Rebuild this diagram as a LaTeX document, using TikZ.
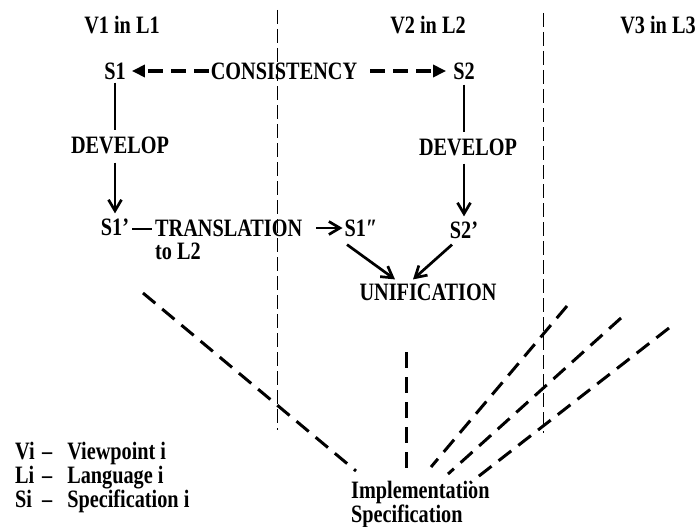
\documentclass[tikz,border=0pt]{standalone}
\usepackage{fontspec}
\setmainfont[FakeStretch=0.81]{Liberation Serif}
\usetikzlibrary{arrows.meta,positioning}

\begin{document}
\begin{tikzpicture}[x=1pt,y=-1pt,
  every node/.style={inner sep=0pt},
  font=\fontsize{25}{20}\selectfont\bfseries,
  conn/.style={line width=2.7pt},
  arr/.style={conn,-{Straight Barb[length=11pt,width=13pt]}},
  consarr/.style={line width=3.2pt,dash pattern=on 15pt off 8pt,-{Triangle[length=13pt,width=12pt]}},
  divider/.style={line width=0.9pt,dash pattern=on 14pt off 5pt},
  spoke/.style={line width=3pt,dash pattern=on 16pt off 9pt}]
\useasboundingbox (0,0) rectangle (696,527);

% column separators
\draw[divider] (277,10) -- (277,430);
\draw[divider] (543,13) -- (543,433);

% viewpoints
\node (v1) at (122,25) {V1 in L1};
\node (v2) at (428,25) {V2 in L2};
\node (v3) at (658,25) {V3 in L3};

% specifications
\node (s1) at (115,71) {S1};
\node (cons) at (284,71) {CONSISTENCY};
\node (s2) at (464,71) {S2};
\node (dev1) at (120,145) {DEVELOP};
\node (dev2) at (468,147) {DEVELOP};
\node (s1p) at (115,227) {S1'};
\node (s2p) at (464,230) {S2'};
\node[anchor=west] (trans) at (155,228) {TRANSLATION};
\node[below right=6pt and 0pt of trans.south west] (tol2) {to L2};
\node (s1pp) at (361,228) {S1\symbol{"2033}};
\node (unif) at (428,292) {UNIFICATION};
\node[anchor=north west,align=left,font=\fontsize{25}{22}\selectfont\bfseries] (impl) at (351,481) {Implementation\\Specification};

% key
\node[anchor=north west,align=left,font=\fontsize{25}{18}\selectfont\bfseries] (key) at (15,442)
  {\makebox[27pt][l]{Vi}--\hspace{15pt}Viewpoint i\\
   \makebox[27pt][l]{Li}--\hspace{15pt}Language i\\
   \makebox[27pt][l]{Si}--\hspace{15pt}Specification i};

% consistency
\draw[consarr,shorten <=2pt,shorten >=6pt] (cons.west) -- (s1.east);
\draw[consarr,shorten <=13pt,shorten >=7pt] (cons.east) -- (s2.west);

% develop
\draw[conn,shorten <=3pt,shorten >=6pt] (s1.south) -- (s1.south |- dev1.north);
\draw[arr,shorten <=9pt,shorten >=5pt] (s1.south |- dev1.south) -- (s1p.north);
\draw[conn,shorten <=5pt,shorten >=6pt] (s2.south) -- (s2.south |- dev2.north);
\draw[arr,shorten <=8pt,shorten >=5pt] (s2.south |- dev2.south) -- (s2p.north);

% translation
\draw[conn,shorten <=3pt,shorten >=3pt] ([yshift=-2pt]s1p.east) -- ([yshift=-2pt]s1p.east -| trans.west);
\draw[arr,shorten <=14pt,shorten >=2pt] (trans.east) -- (trans.east -| s1pp.west);

% unification
\draw[arr] ([xshift=-14pt,yshift=-8pt]s1pp.south) -- ([xshift=-33pt,yshift=4pt]unif.north);
\draw[arr] ([xshift=-12pt,yshift=-6pt]s2p.south) -- ([xshift=-15pt,yshift=4pt]unif.north);

% towards the implementation
\foreach \xa/\ya/\xb/\yb in {143/293/356/471, 406/352/406/476, 567/306/431/467, 621/318/448/474, 669/328/470/483}
  \draw[spoke] (\xa,\ya) -- (\xb,\yb);
\end{tikzpicture}
\end{document}
